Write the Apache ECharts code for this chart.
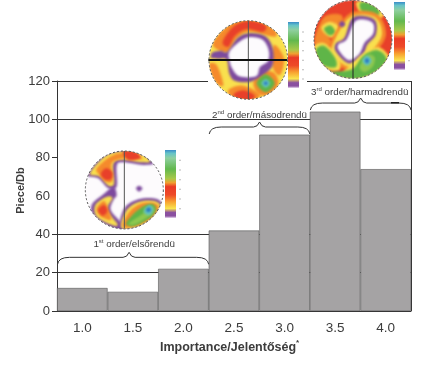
<!DOCTYPE html>
<html>
<head>
<meta charset="utf-8">
<style>html,body{margin:0;padding:0;background:#fff}#chart{width:422px;height:378px}</style>
<script src="https://cdn.jsdelivr.net/npm/echarts@6/dist/echarts.min.js"></script>
</head>
<body>
<div id="chart"></div>
<script>
const categories = ['1.0', '1.5', '2.0', '2.5', '3.0', '3.5', '4.0'];
const pieces = [12, 10, 22, 42, 92, 104, 74];
const tickValues = [0, 20, 40, 80, 100, 120];
const fontName = '"Liberation Sans", Arial, sans-serif';
const textColor = '#3c3c3c';
const lineColor = '#333';

// 颜色
const RED = '#e8402a', ORANGE = '#f58a2c', YELLOW = '#f9e04e', PURPLE = '#7d4a9e', GREEN = '#5fb548', LGREEN = '#8fc84f', CYAN = '#62c4c0', BLUE = '#2a78c0', WHITE = '#fdfbfd';

// 立体投影图的色块, 坐标是放大3倍后读到的位置
const net1 = {
    ox: 80, oy: 145, cx: 133, cy: 135, r: 117, bg: WHITE, bar: [165, 150, 11, 68],
    polys: [
        [PURPLE, [[22, 90], [50, 48], [95, 20], [175, 17], [222, 52], [190, 60], [130, 52], [110, 62], [110, 124], [85, 130], [55, 100]]],
        [YELLOW, [[30, 88], [55, 52], [95, 24], [172, 20], [210, 48], [185, 52], [125, 44], [100, 58], [102, 116], [85, 122], [60, 95]]],
        [ORANGE, [[50, 70], [90, 35], [130, 24], [190, 42], [135, 40], [95, 55], [98, 105], [80, 112], [58, 90]]],
        [RED, [[62, 88], [78, 70], [97, 82], [94, 102], [76, 104]]],
        [RED, [[130, 18], [165, 20], [182, 38], [150, 46], [135, 36]]],
        [PURPLE, [[70, 148], [100, 125], [110, 150], [100, 165], [92, 195], [120, 230], [128, 255], [85, 245], [40, 215], [35, 180]]],
        [YELLOW, [[46, 180], [78, 156], [97, 160], [82, 195], [114, 240], [85, 236], [48, 212]]],
        [ORANGE, [[50, 190], [72, 168], [86, 195], [92, 225], [60, 212]]],
        [RED, [[54, 195], [72, 180], [82, 198], [68, 212]]],
        [PURPLE, [[116, 252], [133, 190], [175, 163], [228, 161], [250, 185], [230, 225], [175, 252], [135, 256]]],
        [YELLOW, [[124, 248], [140, 195], [178, 170], [224, 168], [242, 186], [224, 220], [172, 247]]],
        [ORANGE, [[128, 244], [148, 200], [182, 176], [222, 174], [236, 188], [218, 218], [168, 244]]],
        [GREEN, [[138, 238], [155, 212], [190, 184], [218, 178], [228, 195], [208, 220], [165, 242]]],
        [LGREEN, [[148, 234], [190, 205], [195, 190], [218, 185], [216, 206], [165, 238]]],
        [CYAN, [[192, 196], [207, 180], [220, 192], [210, 210], [195, 206]]],
        [BLUE, [[198, 194], [207, 187], [213, 195], [205, 202]]],
        [PURPLE, [[168, 130], [177, 122], [187, 130], [177, 140]]]
    ],
    vline: [133, 18, 250, '#555', 1]
};
const net2 = {
    ox: 200, oy: 15, cx: 145, cy: 135, r: 118, bg: YELLOW, bar: [288, 22, 11, 66],
    polys: [
        [ORANGE, [[40, 80], [95, 22], [145, 12], [215, 35], [225, 65], [150, 50], [110, 70], [85, 110], [55, 105]]],
        [RED, [[68, 80], [100, 35], [145, 18], [195, 30], [190, 50], [140, 42], [105, 62], [85, 95]]],
        [ORANGE, [[222, 90], [252, 130], [240, 180], [218, 155]]],
        [ORANGE, [[26, 150], [50, 150], [70, 210], [45, 200]]],
        [ORANGE, [[85, 225], [130, 212], [180, 240], [140, 265], [100, 255]]],
        [RED, [[100, 240], [130, 226], [165, 244], [135, 260]]],
        [ORANGE, [[160, 205], [178, 172], [220, 172], [235, 205], [212, 238], [176, 238]]],
        [PURPLE, [[82, 110], [113, 68], [150, 54], [196, 64], [218, 100], [218, 150], [192, 178], [152, 200], [106, 198], [88, 176], [80, 134], [55, 131], [33, 128], [38, 112], [62, 107]]],
        [WHITE, [[88, 110], [118, 80], [150, 66], [188, 74], [206, 105], [204, 138], [180, 156], [168, 184], [118, 184], [96, 160], [88, 135]]],
        [GREEN, [[170, 205], [197, 178], [224, 205], [197, 232]]],
        [CYAN, [[184, 205], [197, 192], [210, 205], [197, 218]]],
        [BLUE, [[191, 205], [197, 199], [203, 205], [197, 211]]]
    ],
    vline: [145, 18, 252, '#555', 1],
    hline: [25, 262, 135, '#111', 2]
};
const net3 = {
    ox: 308, oy: 0, cx: 135, cy: 118, r: 117, bg: RED, bar: [394, 2, 11, 68],
    polys: [
        [ORANGE, [[20, 115], [50, 50], [100, 45], [100, 78], [70, 72], [50, 90], [70, 125], [60, 140], [30, 140]]],
        [YELLOW, [[40, 84], [62, 66], [90, 76], [94, 102], [65, 112]]],
        [GREEN, [[48, 86], [68, 76], [82, 96], [64, 106]]],
        [YELLOW, [[145, 8], [205, 6], [226, 48], [175, 58]]],
        [GREEN, [[155, 10], [196, 10], [214, 42], [172, 50]]],
        [ORANGE, [[66, 130], [122, 42], [204, 40], [234, 100], [204, 156], [140, 212], [70, 180]]],
        [YELLOW, [[76, 130], [126, 52], [198, 50], [222, 100], [194, 150], [135, 202], [78, 170]]],
        [YELLOW, [[15, 145], [50, 130], [92, 175], [92, 212], [40, 200]]],
        [GREEN, [[24, 150], [50, 138], [82, 175], [82, 202], [40, 192]]],
        [PURPLE, [[84, 130], [110, 112], [136, 52], [198, 58], [204, 102], [178, 134], [162, 170], [122, 190], [84, 155]]],
        [WHITE, [[92, 132], [116, 118], [144, 62], [192, 66], [196, 100], [170, 128], [154, 162], [122, 180], [92, 150]]],
        [YELLOW, [[90, 232], [132, 192], [165, 160], [214, 142], [245, 180], [210, 222], [155, 245], [120, 245]]],
        [GREEN, [[55, 218], [130, 208], [165, 168], [208, 150], [236, 178], [208, 214], [165, 234], [120, 245], [85, 238]]],
        [LGREEN, [[155, 200], [178, 165], [200, 172], [195, 198], [170, 216]]],
        [CYAN, [[163, 182], [177, 167], [191, 182], [177, 197]]],
        [BLUE, [[170, 182], [177, 174], [184, 182], [177, 190]]],
        [PURPLE, [[93, 72], [102, 63], [112, 72], [102, 81]]]
    ],
    vline: [135, 2, 235, '#222', 1]
};
const orderNumbers = ['1', '2', '3'];
const orderSuffixes = ['st', 'nd', 'rd'];
const orderTexts = [' order/elsőrendü', ' order/másodrendü', ' order/harmadrendü'];
const orderFrom = [0, 3, 5];
const orderTo = [2, 4, 6];
const orderLevel = [28, 96, 108.5];

const myChart = echarts.init(document.getElementById('chart'));

const option = {
    animation: false,
    backgroundColor: '#fff',
    grid: { left: 57, right: 11, top: 81, bottom: 67, outerBoundsMode: 'none' },
    xAxis: {
        type: 'category',
        data: categories,
        name: 'Importance/Jelentőség',
        nameLocation: 'middle',
        nameGap: 30,
        nameMoveOverlap: false,
        nameTextStyle: { fontFamily: fontName, fontWeight: 'bold', fontSize: 12.5, color: textColor, padding: [0, 12, 0, 0] },
        axisLine: { lineStyle: { color: lineColor, width: 1 } },
        axisTick: { length: 3, lineStyle: { color: lineColor } },
        axisLabel: { fontFamily: fontName, fontSize: 13.5, color: textColor, margin: 10 },
        splitLine: { show: false }
    },
    yAxis: {
        type: 'value',
        min: 0,
        max: 120,
        interval: 20,
        name: 'Piece/Db',
        nameLocation: 'middle',
        nameGap: 31,
        nameMoveOverlap: false,
        nameTextStyle: { fontFamily: fontName, fontWeight: 'bold', fontSize: 11, color: textColor, padding: [0, 0, 0, 11] },
        axisLine: { show: true, lineStyle: { color: lineColor, width: 1 } },
        axisTick: { show: true, length: 5, customValues: tickValues, lineStyle: { color: lineColor } },
        axisLabel: { fontFamily: fontName, fontSize: 13, color: textColor, margin: 7 },
        // 60 这一条原图没有
        splitLine: { lineStyle: { color: [lineColor, lineColor, lineColor, 'rgba(0,0,0,0)', lineColor, lineColor, lineColor], width: 1 } }
    },
    series: [{
        type: 'bar',
        data: pieces,
        barWidth: '100%',
        itemStyle: { color: '#a5a3a4', borderColor: '#555', borderWidth: 0.6 }
    }]
};
myChart.setOption(option);

// 色块先画到小画布上, 模糊一点再贴进图里
const makeNetImage = (net) => {
    const size = 2 * Math.ceil(net.r / 3) + 4;
    const canvas = document.createElement('canvas');
    canvas.width = size;
    canvas.height = size;
    const ctx = canvas.getContext('2d');
    const px = ([x, y]) => [(x - net.cx) / 3 + size / 2, (y - net.cy) / 3 + size / 2];
    ctx.beginPath();
    ctx.arc(size / 2, size / 2, net.r / 3, 0, Math.PI * 2);
    ctx.clip();
    ctx.fillStyle = net.bg;
    ctx.fillRect(0, 0, size, size);
    ctx.filter = 'blur(0.8px)';
    net.polys.forEach(([fill, pts]) => {
        const ps = pts.map(px);
        const n = ps.length;
        ctx.beginPath();
        ctx.moveTo(ps[0][0], ps[0][1]);
        // 曲线要穿过读到的点
        ps.forEach((q, i) => {
            const p0 = ps[(i - 1 + n) % n];
            const p2 = ps[(i + 1) % n];
            const p3 = ps[(i + 2) % n];
            ctx.bezierCurveTo(
                q[0] + (p2[0] - p0[0]) / 6, q[1] + (p2[1] - p0[1]) / 6,
                p2[0] - (p3[0] - q[0]) / 6, p2[1] - (p3[1] - q[1]) / 6,
                p2[0], p2[1]
            );
        });
        ctx.closePath();
        ctx.fillStyle = fill;
        ctx.fill();
    });
    return { canvas, size };
};

const drawNet = (net, out) => {
    const p = ([x, y]) => [net.ox + x / 3, net.oy + y / 3];
    const [cx, cy] = p([net.cx, net.cy]);
    const r = net.r / 3;
    const { canvas, size } = makeNetImage(net);
    out.push({ type: 'image', style: { image: canvas, x: cx - size / 2, y: cy - size / 2, width: size, height: size } });
    if (net.vline) {
        const [x, y1, y2, stroke, lineWidth] = net.vline;
        out.push({ type: 'line', shape: { x1: p([x, 0])[0], y1: p([0, y1])[1], x2: p([x, 0])[0], y2: p([0, y2])[1] }, style: { stroke, lineWidth } });
    }
    if (net.hline) {
        const [x1, x2, y, stroke, lineWidth] = net.hline;
        out.push({ type: 'line', shape: { x1: p([x1, 0])[0], y1: p([0, y])[1], x2: p([x2, 0])[0], y2: p([0, y])[1] }, style: { stroke, lineWidth } });
    }
    out.push({ type: 'circle', shape: { cx, cy, r }, style: { fill: 'none', stroke: '#555', lineWidth: 1, lineDash: [2, 2] } });
    const [bx, by, bw, bh] = net.bar;
    out.push({
        type: 'rect',
        shape: { x: bx, y: by, width: bw, height: bh },
        style: {
            fill: new echarts.graphic.LinearGradient(0, 0, 0, 1, [
                { offset: 0, color: '#3a8cc8' }, { offset: 0.05, color: '#66c4c8' },
                { offset: 0.12, color: '#8fd0a0' }, { offset: 0.28, color: '#62b84e' },
                { offset: 0.42, color: '#a8c84a' }, { offset: 0.48, color: '#f0a030' },
                { offset: 0.54, color: '#ea3a26' }, { offset: 0.66, color: '#ee4a28' },
                { offset: 0.76, color: '#f8a030' }, { offset: 0.86, color: '#f9e44e' },
                { offset: 0.92, color: '#8a50a0' }, { offset: 0.97, color: '#8a50a0' },
                { offset: 1, color: '#e8d8ee' }
            ])
        }
    });
    for (let i = 1; i < 7; i++) {
        out.push({ type: 'rect', shape: { x: bx + bw + 3, y: by + i * bh / 7, width: 2, height: 1 }, style: { fill: '#bbb' } });
    }
};

const curve = (x1, y1, cpx1, cpy1, x2, y2) => ({
    type: 'bezierCurve',
    shape: { x1, y1, x2, y2, cpx1, cpy1 },
    style: { fill: 'none', stroke: lineColor, lineWidth: 1 }
});

// 大括号和上面的文字
const labelShift = [5, 0, -1];
const labelRise = [13, 12, 11];
const midShift = [-4, 0, 0];
const drawBrace = (i, out) => {
    const toX = (v) => myChart.convertToPixel({ xAxisIndex: 0 }, v);
    const band = toX(1) - toX(0);
    const x1 = toX(orderFrom[i]) - band / 2 + 0.5;
    const x2 = toX(orderTo[i]) + band / 2;
    const mid = (x1 + x2) / 2 + midShift[i];
    const y = myChart.convertToPixel({ yAxisIndex: 0 }, orderLevel[i]);
    out.push(curve(x1, y + 7, x1 + 1, y, x1 + 12, y));
    out.push({ type: 'line', shape: { x1: x1 + 12, y1: y, x2: mid - 6, y2: y }, style: { stroke: lineColor, lineWidth: 1 } });
    out.push(curve(mid - 6, y, mid - 2, y, mid, y - 5));
    out.push(curve(mid, y - 5, mid + 2, y, mid + 6, y));
    out.push({ type: 'line', shape: { x1: mid + 6, y1: y, x2: x2 - 12, y2: y }, style: { stroke: lineColor, lineWidth: 1 } });
    out.push(curve(x2 - 12, y, x2 - 1, y, x2, y + 7));
    out.push({
        type: 'text',
        x: mid + labelShift[i],
        y: y - labelRise[i],
        style: {
            text: `{a|${orderNumbers[i]}}{s|${orderSuffixes[i]}}{a|${orderTexts[i]}}`,
            align: 'center',
            verticalAlign: 'middle',
            rich: {
                a: { fontFamily: fontName, fontSize: 9.8, fill: textColor, lineHeight: 12 },
                s: { fontFamily: fontName, fontSize: 6, fill: textColor, lineHeight: 12, verticalAlign: 'top' }
            }
        }
    });
};

const elements = [
    // 插图底色盖住网格线
    { type: 'rect', shape: { x: 85, y: 150, width: 98, height: 20 }, style: { fill: '#fff' } },
    { type: 'rect', shape: { x: 208, y: 15, width: 99, height: 84 }, style: { fill: '#fff' } },
    { type: 'line', shape: { x1: 411.5, y1: 81, x2: 411.5, y2: 311 }, style: { stroke: lineColor, lineWidth: 1 } }
];
[net1, net2, net3].forEach(net => drawNet(net, elements));
orderNumbers.forEach((n, i) => drawBrace(i, elements));
elements.push({ type: 'rect', shape: { x: 391, y: 102, width: 8, height: 1.5 }, style: { fill: '#222' } });
elements.push({
    type: 'text', x: 296, y: 339,
    style: { text: '*', fontFamily: fontName, fontWeight: 'bold', fontSize: 8, fill: textColor }
});
myChart.setOption({ graphic: { elements } });
</script>
</body>
</html>
